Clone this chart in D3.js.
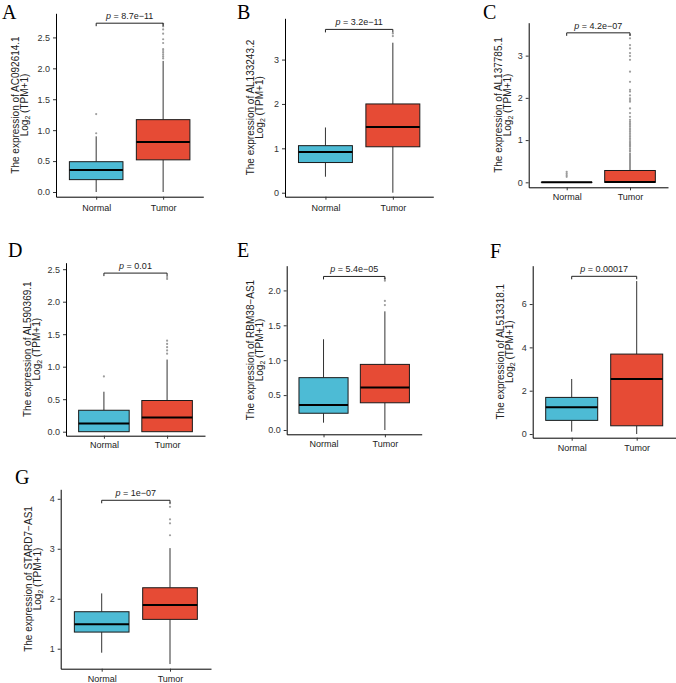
<!DOCTYPE html>
<html>
<head>
<meta charset="utf-8">
<script src="https://cdn.jsdelivr.net/npm/d3@7"></script>
<style>
html,body{margin:0;padding:0;background:#fff;}
svg{display:block;}
</style>
</head>
<body>
<svg id="chart" width="676" height="683"></svg>
<script>
// ---------------- DATA ----------------
const panelLetters = ["A","B","C","D","E","F","G"];
const genes = ["AC092614.1","AL133243.2","AL137785.1","AL590369.1","RBM38\u2212AS1","AL513318.1","STARD7\u2212AS1"];
const groups = ["Normal","Tumor"];
// box stats: [lower whisker, Q1, median, Q3, upper whisker]
const normalStats = [
  [0, 0.20, 0.357, 0.49, 0.90],
  [0.36, 0.68, 0.92, 1.06, 1.47],
  [0, 0, 0, 0, 0],
  [0, 0, 0.128, 0.33, 0.615],
  [0.105, 0.24, 0.358, 0.75, 1.30],
  [0.11, 0.63, 1.23, 1.69, 2.54],
  [0.92, 1.333, 1.487, 1.74, 2.107]
];
const tumorStats = [
  [0, 0.52, 0.81, 1.17, 2.12],
  [0, 1.035, 1.48, 2.0, 3.38],
  [0, 0, 0.01, 0.28, 0.70],
  [0, 0, 0.22, 0.48, 1.11],
  [0, 0.39, 0.61, 0.94, 1.70],
  [0, 0.38, 2.54, 3.69, 7.06],
  [0.693, 1.587, 1.873, 2.22, 3.013]
];
const normalOutliers = [
  [0.95, 1.26],
  [],
  [0.13, 0.17, 0.21, 0.25],
  [0.85],
  [],
  [],
  []
];
const tumorOutliers = [
  [2.16, 2.19, 2.22, 2.25, 2.28, 2.31, 2.41, 2.47, 2.56, 2.63, 2.68, 2.72],
  [3.53, 3.59],
  [0.73, 0.76, 0.80, 0.84, 0.87, 0.90, 0.93, 0.96, 1.00, 1.04, 1.08, 1.12, 1.16, 1.20, 1.24, 1.28, 1.32, 1.36, 1.40, 1.44, 1.48, 1.55, 1.64, 1.75, 1.91, 1.95, 1.99, 2.06, 2.15, 2.19, 2.38, 2.62, 2.90, 2.99, 3.06, 3.17, 3.25, 3.41, 3.49],
  [1.20, 1.25, 1.30, 1.35, 1.40, 2.35, 2.38],
  [1.79, 1.85, 2.14, 2.17],
  [],
  [3.27, 3.51, 3.59, 3.84, 3.91]
];
const pLabels = ["8.7e\u221211","3.2e\u221211","4.2e\u221207","0.01","5.4e\u221205","0.00017","1e\u221207"];
const bracketValues = [2.73, 3.68, 3.54, 2.44, 2.20, 7.28, 3.97];
const yTicks = [
  [0, 0.5, 1.0, 1.5, 2.0, 2.5],
  [0, 1, 2, 3],
  [0, 1, 2, 3],
  [0, 0.5, 1.0, 1.5, 2.0, 2.5],
  [0, 0.5, 1.0, 1.5, 2.0],
  [0, 2, 4, 6],
  [1, 2, 3, 4]
];
const yTickFormats = [".1f", "d", "d", ".1f", ".1f", "d", "d"];
const yDomains = [
  [-0.076, 2.89],
  [-0.09, 3.93],
  [-0.118, 3.78],
  [-0.0615, 2.6],
  [-0.0616, 2.354],
  [-0.17, 7.77],
  [0.6, 4.19]
];

// ---------------- LAYOUT ----------------
const layout = [
  {left:56,    right:203.3, top:13.3,  bottom:196.7, titleDx:41,   xPad:5, letterX:2,   letterY:18.5},
  {left:285,   right:433.3, top:18.3,  bottom:196.7, titleDx:35,   xPad:5, letterX:237, letterY:18.5},
  {left:528.7, right:668,   top:22.7,  bottom:187.3, titleDx:30.4, xPad:3, letterX:483, letterY:18.5},
  {left:66,    right:205,   top:262.7, bottom:435.7, titleDx:39,   xPad:3, letterX:8,   letterY:257},
  {left:286.7, right:421.7, top:265.7, bottom:434.3, titleDx:36.7, xPad:3, letterX:237, letterY:257},
  {left:532.7, right:675.7, top:265.7, bottom:437.7, titleDx:32.7, xPad:4, letterX:490, letterY:258},
  {left:60.7,  right:211,   top:489.3, bottom:668.7, titleDx:32.4, xPad:4, letterX:15,  letterY:484}
];
const colors = {Normal:"#4DBBD5", Tumor:"#E64B35"};
const sansFont = "'Liberation Sans', Arial, Helvetica, sans-serif";

const svg = d3.select("#chart");

panelLetters.forEach((letter, i) => {
  const L = layout[i];
  const g = svg.append("g");
  const x = d3.scalePoint().domain(groups).range([L.left, L.right]).padding(0.6);
  const y = d3.scaleLinear().domain(yDomains[i]).range([L.bottom, L.top]);
  const bw = x.step() * 0.8;

  // panel letter
  g.append("text")
    .attr("x", L.letterX).attr("y", L.letterY)
    .attr("font-family", "'Liberation Serif', 'Times New Roman', serif")
    .attr("font-size", 20)
    .attr("fill", "#000")
    .text(letter);

  // y axis
  const yAxis = d3.axisLeft(y).tickValues(yTicks[i]).tickFormat(d3.format(yTickFormats[i]))
    .tickSize(3).tickSizeOuter(0).tickPadding(3);
  const ya = g.append("g").attr("transform", `translate(${L.left},0)`).call(yAxis);
  ya.select(".domain").attr("stroke", "#000").attr("stroke-width", 1);
  ya.selectAll(".tick line").attr("stroke", "#333");
  ya.selectAll(".tick text").attr("font-family", sansFont).attr("font-size", 9).attr("fill", "#333");

  // x axis
  const xAxis = d3.axisBottom(x).tickSize(3).tickSizeOuter(0).tickPadding(L.xPad);
  const xa = g.append("g").attr("transform", `translate(0,${L.bottom})`).call(xAxis);
  xa.select(".domain").attr("stroke", "#000").attr("stroke-width", 1);
  xa.selectAll(".tick line").attr("stroke", "#333");
  xa.selectAll(".tick text").attr("font-family", sansFont).attr("font-size", 9).attr("fill", "#222");

  // y axis title
  const cy = (L.top + L.bottom) / 2;
  const tg = g.append("g").attr("transform", `translate(${L.left - L.titleDx},${cy}) rotate(-90)`)
    .attr("font-family", sansFont).attr("font-size", 10).attr("fill", "#222").attr("text-anchor", "middle");
  tg.append("text").attr("x", 0).attr("y", 0).attr("dy", "0.35em").text("The expression of " + genes[i]);
  const t2 = tg.append("text").attr("x", 0).attr("y", 9).attr("dy", "0.35em");
  t2.append("tspan").text("Log");
  t2.append("tspan").attr("font-size", 7).attr("dy", "0.3em").text("2");
  t2.append("tspan").attr("dy", "-0.2em").text(" (TPM+1)");

  // boxes
  const statsByGroup = {Normal: normalStats[i], Tumor: tumorStats[i]};
  const outByGroup = {Normal: normalOutliers[i], Tumor: tumorOutliers[i]};
  groups.forEach(grp => {
    const s = statsByGroup[grp];
    const cx = x(grp);
    // whiskers
    g.append("line").attr("x1", cx).attr("x2", cx).attr("y1", y(s[0])).attr("y2", y(s[1]))
      .attr("stroke", "#333").attr("stroke-width", 1);
    g.append("line").attr("x1", cx).attr("x2", cx).attr("y1", y(s[3])).attr("y2", y(s[4]))
      .attr("stroke", "#333").attr("stroke-width", 1);
    // outliers
    g.selectAll(null).data(outByGroup[grp]).enter().append("circle")
      .attr("cx", cx).attr("cy", d => y(d)).attr("r", 1.1)
      .attr("fill", "#8c8c8c").attr("fill-opacity", 0.85);
    // box
    g.append("rect").attr("x", cx - bw / 2).attr("width", bw)
      .attr("y", y(s[3])).attr("height", Math.max(0.01, y(s[1]) - y(s[3])))
      .attr("fill", colors[grp]).attr("stroke", "#1a1a1a").attr("stroke-width", 1);
    // median
    g.append("line").attr("x1", cx - bw / 2).attr("x2", cx + bw / 2)
      .attr("y1", y(s[2])).attr("y2", y(s[2]))
      .attr("stroke", "#000").attr("stroke-width", 2);
  });

  // bracket
  const by = y(bracketValues[i]);
  const x1 = x("Normal"), x2 = x("Tumor");
  g.append("path").attr("d", `M${x1},${by + 3}V${by}H${x2}V${by + 3}`)
    .attr("fill", "none").attr("stroke", "#222").attr("stroke-width", 1);
  const pt = g.append("text").attr("x", (x1 + x2) / 2).attr("y", by - 4)
    .attr("text-anchor", "middle").attr("font-family", sansFont).attr("font-size", 9).attr("fill", "#222");
  pt.append("tspan").attr("font-style", "italic").text("p");
  pt.append("tspan").text(" = " + pLabels[i]);
});
</script>
</body>
</html>
